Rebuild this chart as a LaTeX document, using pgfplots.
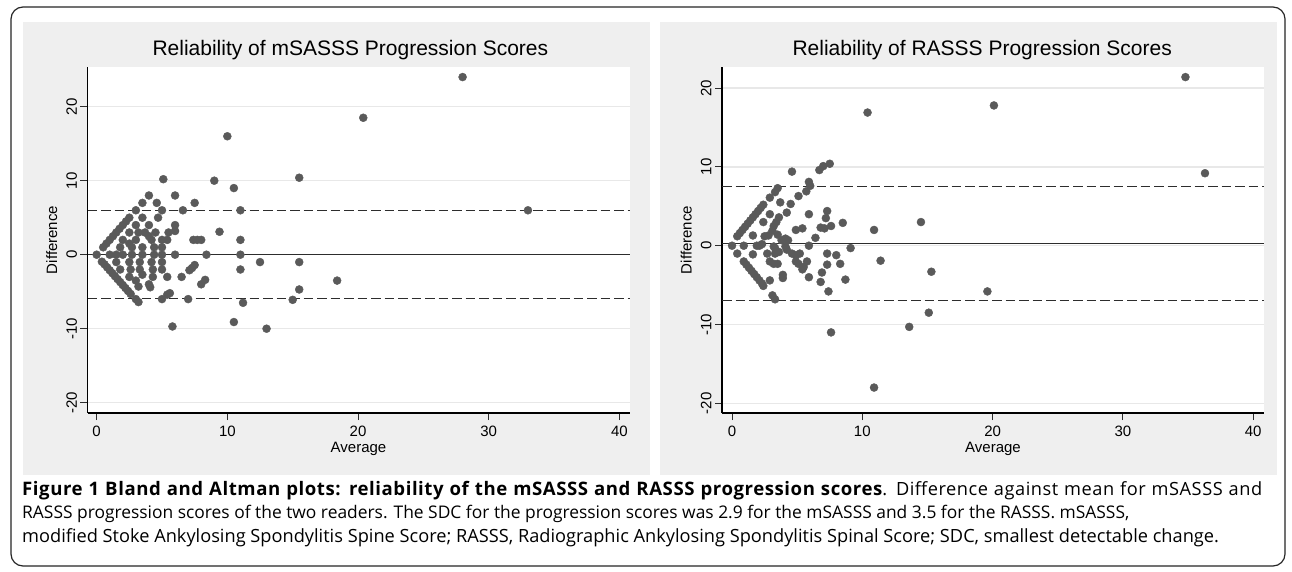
\documentclass[border=0pt]{standalone}
\usepackage{fontspec}
\setmainfont{Liberation Sans}
\newfontfamily\capfont{Open Sans}
\newfontfamily\capfontls{Open Sans}[LetterSpace=3.0]
\usepackage{pgfplots}
\pgfplotsset{compat=1.18}

\definecolor{panelgray}{RGB}{239,239,239}
\definecolor{gridgray}{RGB}{232,232,232}
\definecolor{dotgray}{RGB}{90,90,90}
\definecolor{linegray}{RGB}{45,45,45}

\pgfplotsset{
  ba/.style={
    scale only axis, width=542pt, height=346pt,
    anchor=south west,
    axis lines=left, axis line style={-, line width=1.1pt, black},
    tick align=outside, major tick length=7pt,
    tick style={line width=1pt, linegray},
    xtick={0,10,20,30,40}, ytick={-20,-10,0,10,20},
    ymajorgrids, grid style={line width=1.4pt, gridgray},
    axis background/.style={fill=white},
    tick label style={font=\fontsize{15}{18}\selectfont},
    /pgf/number format/assume math mode=true,
    yticklabel style={rotate=90, anchor=south},
    xticklabel style={yshift=-2pt},
    label style={font=\fontsize{15}{18}\selectfont},
    title style={font=\fontsize{21}{25}\selectfont, anchor=base},
    xlabel={Average}, ylabel={Difference},
    xlabel style={at={(axis description cs:0.5,-0.104)}, anchor=center},
    ylabel style={at={(axis description cs:-0.066,0.5)}, anchor=center},
    clip=false,
  },
  dots/.style={only marks, mark=*, mark size=4pt,
    mark options={fill=dotgray, draw=dotgray}},
  meanl/.style={no marks, line width=1.1pt, linegray},
  limitl/.style={no marks, line width=1.1pt, linegray, dash pattern=on 9.5pt off 4pt},
}

\begin{document}
\begin{tikzpicture}
\fill[white] (0pt,0pt) rectangle (1292pt,-572pt);
\path[use as bounding box] (0pt,0pt) rectangle (1292pt,-572pt);
\fill[panelgray] (23pt,-22pt) rectangle (650pt,-475pt);
\fill[panelgray] (660pt,-22pt) rectangle (1277pt,-475pt);
\draw[line width=1.2pt, black!85, rounded corners=12pt] (11pt,-7pt) rectangle (1285pt,-566pt);

% mSASSS
\begin{axis}[ba, at={(87.5pt,-413pt)},
  xmin=-0.70, xmax=40.77, ymin=-21.39, ymax=25.36,
  title={Reliability of mSASSS Progression Scores},
  title style={at={(axis description cs:0.485,1.0145)}}]
\addplot[limitl] coordinates {(-0.70,6.0) (40.77,6.0)};
\addplot[limitl] coordinates {(-0.70,-5.9) (40.77,-5.9)};
\addplot[meanl] coordinates {(-0.70,0.05) (40.77,0.05)};
\addplot[dots] coordinates {
(0,0)
(0.5,1) (0.75,1.5) (1,2) (1.25,2.5) (1.5,3) (1.75,3.5) (2,4) (2.25,4.5) (2.5,5) (3,6) (3.5,7) (4,8) (5.1,10.2)
(0.4,-0.95) (0.6,-1.3) (0.8,-1.7) (1,-2.1) (1.2,-2.5) (1.4,-2.9) (1.6,-3.3) (1.8,-3.7) (2,-4.1) (2.2,-4.5) (2.4,-4.9) (2.6,-5.3) (3.0,-6) (3.2,-6.4)
(1,0) (1.5,0) (2,0) (2.7,0) (3.5,0) (4.4,0) (5,0) (6,0) (8.4,0) (11,0)
(4.6,7) (5,6) (3.5,5) (4.7,5) (3,4) (4,4) (6,4) (2.5,3) (3.7,3) (4.5,3) (5.5,3) (6,3.2)
(2,2) (3,2) (4.2,2) (5,2) (5.4,2) (1.8,1) (2.7,1) (3.5,1) (5,1) (3.2,3) (4,2.5) (2.5,1.5) (4.4,1)
(1.5,-1) (2.5,-1) (3.3,-1) (4.2,-1) (5,-1) (1.8,-2) (2.6,-2) (3.3,-2) (4.3,-2) (5,-2)
(2.5,-3) (3.5,-2.7) (4.3,-3) (5.4,-3) (3,-3.5) (3.2,-4.3) (4,-4) (4.1,-4.4) (5.6,-5.2) (5.4,-5.4) (5,-6)
(6.6,6) (7.5,7) (6,8) (9,10) (10.5,9) (10,16) (11,6) (9.4,3.1) (7.4,2) (7.7,2) (8,2) (11,2)
(12.5,-1) (11,-2) (7.5,-1.4) (7.3,-1.8) (7.1,-2.1) (6.5,-3) (8.3,-3.4) (8,-4) (7,-6) (11.2,-6.5)
(5.8,-9.7) (10.5,-9.1) (13,-10)
(28,24) (20.4,18.5) (15.5,10.4) (33,6) (15.5,-1) (18.4,-3.5) (15.5,-4.7) (15,-6.1)
};
\end{axis}

% RASSS
\begin{axis}[ba, at={(722pt,-413pt)},
  xmin=-0.77, xmax=40.83, ymin=-21.23, ymax=22.68,
  title={Reliability of RASSS Progression Scores},
  title style={at={(axis description cs:0.48,1.0145)}}]
\addplot[limitl] coordinates {(-0.77,7.5) (40.83,7.5)};
\addplot[limitl] coordinates {(-0.77,-6.93) (40.83,-6.93)};
\addplot[meanl] coordinates {(-0.77,0.28) (40.83,0.28)};
\addplot[dots] coordinates {
(0,0)
(0.4,1.2) (0.6,1.6) (0.8,2) (1,2.4) (1.2,2.8) (1.4,3.2) (1.6,3.6) (1.8,4) (2,4.4) (2.2,4.8) (2.4,5.2)
(0.9,-2) (1.1,-2.4) (1.3,-2.8) (1.5,-3.2) (1.7,-3.6) (1.9,-4) (2.1,-4.4) (2.3,-4.8) (2.4,-5.1) (3.1,-6.3) (3.3,-6.8)
(10.4,16.9) (4.6,9.4) (7.5,10.4) (7,10.1) (6.7,9.6) (5.9,8.1) (6.0,7.6) (5.7,6.9) (5.1,6.3)
(3.5,7.3) (3.3,6.8) (2.9,6.1) (3.7,5.5) (4.5,5.3) (2.9,4) (4.2,4.2) (2.4,3) (3.6,3.6) (3.4,3.0)
(3.2,2.5) (3.1,1.9) (1.6,1.3) (2.5,1.2) (2.8,1.3) (3.5,1.4) (3.8,0.7) (4.1,0.9) (4.3,0.7)
(4.9,2) (5.4,2.2) (5.9,4) (6.4,1) (6.8,2.3) (7.1,2.2) (7.6,2.5) (7.3,4.4) (7.2,3.5) (8.5,2.9) (10.9,2)
(0.9,0) (1.9,0) (2.1,0) (2.3,0.2) (3.2,-0.1) (3.3,-0.3) (4.1,-0.1) (5.9,0) (9.1,-0.3) (4.2,-0.5)
(0.4,-1) (1.6,-1.1) (2.7,-1) (3.3,-1) (3.6,-0.8) (4.6,-1) (4.9,-1.2) (5.2,-1) (7.3,-1) (8,-1.2)
(11.4,-1.9) (7.3,-2.4) (8.3,-2.3) (6.9,-3.4) (6.8,-4.6) (8.7,-4.3) (7.4,-5.8) (5.9,-4)
(5.5,-2.7) (5.75,-2) (5.4,-3) (4.9,-2) (3.9,-3.7) (3.9,-4.1) (2.9,-4.4) (2.9,-2) (3.2,-2.3) (3.5,-2.3) (5.1,-2.3)
(7.6,-11) (10.9,-18) (13.6,-10.3) (34.8,21.4) (20.1,17.8) (36.3,9.2) (14.5,3) (15.3,-3.3) (19.6,-5.8) (15.1,-8.5)
};
\end{axis}

\begin{scope}[every node/.style={anchor=base west, inner sep=0pt, font=\capfont\fontsize{17.4}{21}\selectfont}]
\node at (22pt,-495pt) {\capfontls\fontsize{18.2}{21}\selectfont\makebox[1240pt][s]{{\bfseries\fontsize{18.6}{21}\selectfont Figure 1 Bland and Altman plots: reliability of the mSASSS and RASSS progression scores}. Difference against mean for mSASSS and}};
\node at (22pt,-518.5pt) {RASSS progression scores of the two readers. The SDC for the progression scores was 2.9 for the mSASSS and 3.5 for the RASSS. mSASSS,};
\node at (22pt,-542pt) {\fontsize{18.2}{21}\selectfont modified Stoke Ankylosing Spondylitis Spine Score; RASSS, Radiographic Ankylosing Spondylitis Spinal Score; SDC, smallest detectable change.};
\end{scope}
\end{tikzpicture}
\end{document}
